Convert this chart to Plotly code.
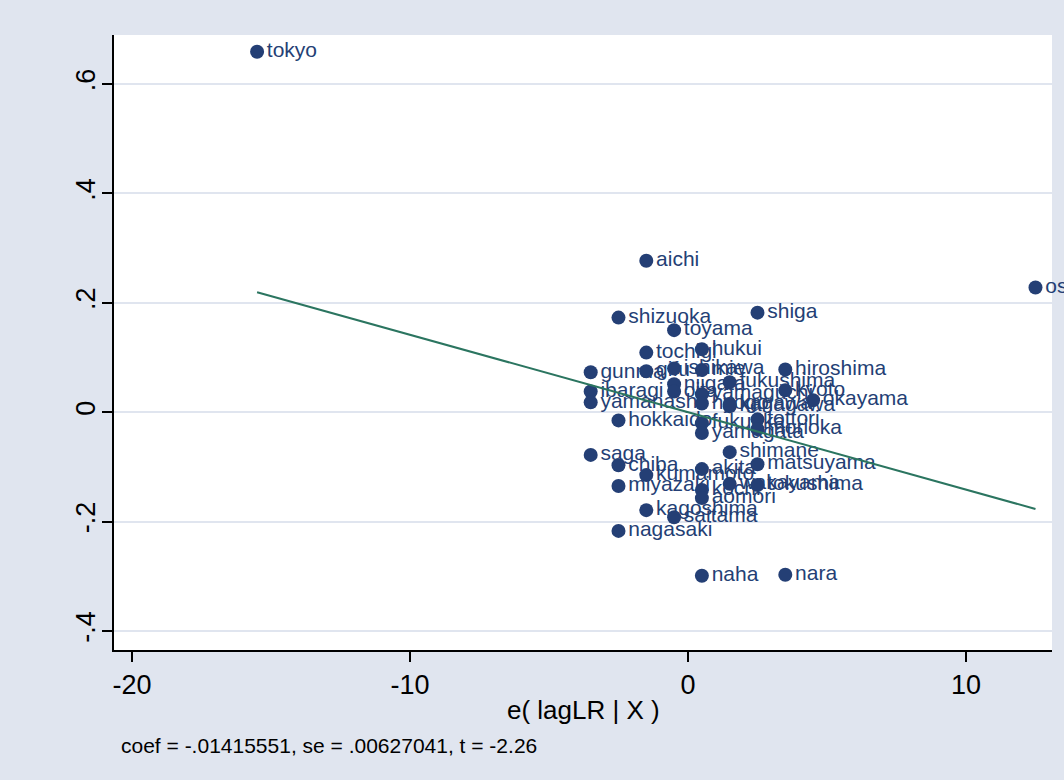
import plotly.graph_objects as go

# Added-variable plot: residual of lagLR against residual of the outcome
names = [
    "tokyo", "aichi", "osaka", "shizuoka", "shiga", "toyama", "tochigi", "hukui",
    "gunma", "gifu", "ishikawa", "mie", "hiroshima", "fukushima", "niigata",
    "oita", "yamaguchi", "kyoto", "ibaragi", "yamanashi", "okayama", "hyogo",
    "kanagawa", "kagawa", "hokkaido", "fukuoka", "tottori", "morioka", "yamagata",
    "shimane", "saga", "chiba", "kumamoto", "akita", "matsuyama", "miyazaki",
    "kochi", "aomori", "wakayama", "tokushima", "kagoshima", "saitama", "nagasaki",
    "naha", "nara",
]
e_lagLR = [
    -15.5, -1.5, 12.5, -2.5, 2.5, -0.5, -1.5, 0.5,
    -3.5, -1.5, -0.5, 0.5, 3.5, 1.5, -0.5,
    -0.5, 0.5, 3.5, -3.5, -3.5, 4.5, 0.5,
    1.5, 1.5, -2.5, 0.5, 2.5, 2.5, 0.5,
    1.5, -3.5, -2.5, -1.5, 0.5, 2.5, -2.5,
    0.5, 0.5, 1.5, 2.5, -1.5, -0.5, -2.5,
    0.5, 3.5,
]
e_y = [
    0.659, 0.277, 0.228, 0.173, 0.182, 0.150, 0.109, 0.115,
    0.073, 0.075, 0.080, 0.077, 0.078, 0.055, 0.051,
    0.038, 0.033, 0.040, 0.038, 0.018, 0.022, 0.016,
    0.011, 0.015, -0.015, -0.020, -0.013, -0.031, -0.038,
    -0.073, -0.078, -0.097, -0.115, -0.104, -0.095, -0.135,
    -0.142, -0.157, -0.131, -0.133, -0.179, -0.192, -0.217,
    -0.299, -0.297,
]

coef = -0.01415551
se = 0.00627041
tstat = -2.26

x_ticks = [-20, -10, 0, 10]
y_ticks = [-0.4, -0.2, 0, 0.2, 0.4, 0.6]
y_ticklabels = ["-.4", "-.2", "0", ".2", ".4", ".6"]

navy = "#243F75"
green = "#2B7560"
bg = "#E0E5EF"
font = "Arial, Liberation Sans, Helvetica, sans-serif"

# fitted line through the origin spanning the observed range
x_fit = [min(e_lagLR), max(e_lagLR)]
y_fit = [coef * v for v in x_fit]


def stata_num(v, digits):
    s = f"{v:.{digits}f}"
    if s.startswith("-0."):
        return "-" + s[2:]
    if s.startswith("0."):
        return s[1:]
    return s


note = (f"coef = {stata_num(coef, 8)}, se = {stata_num(se, 8)}, "
        f"t = {tstat:.2f}")

fig = go.Figure()
fig.add_trace(go.Scatter(
    x=e_lagLR, y=e_y, mode="markers+text", text=names,
    textposition="middle right",
    textfont=dict(family=font, size=21, color=navy),
    marker=dict(size=14, color=navy),
    cliponaxis=False, showlegend=False, hoverinfo="skip",
))
fig.add_trace(go.Scatter(
    x=x_fit, y=y_fit, mode="lines",
    line=dict(color=green, width=2),
    showlegend=False, hoverinfo="skip",
))

fig.update_layout(
    width=1064, height=780,
    margin=dict(l=114, r=12, t=35, b=130),
    paper_bgcolor=bg, plot_bgcolor="white",
    font=dict(family=font, color="black"),
    xaxis=dict(
        range=[-20.647, 13.094], tickvals=x_ticks,
        ticktext=[str(v) for v in x_ticks],
        showgrid=False, zeroline=False,
        showline=True, linecolor="black", linewidth=1.5,
        ticks="outside", ticklen=10, tickwidth=1.5, tickcolor="black",
        tickfont=dict(size=27, family=font, color="black"),
    ),
    yaxis=dict(
        range=[-0.4347, 0.6896], tickvals=y_ticks, ticktext=y_ticklabels,
        tickangle=-90, ticklabelstandoff=-4,
        showgrid=True, gridcolor=bg, gridwidth=2, zeroline=False,
        showline=True, linecolor="black", linewidth=1.5,
        ticks="outside", ticklen=10, tickwidth=1.5, tickcolor="black",
        tickfont=dict(size=27, family=font, color="black"),
    ),
    annotations=[
        dict(text="e( lagLR | X )", xref="paper", yref="paper",
             x=0.5, y=-0.0976, xanchor="center", yanchor="middle",
             showarrow=False, font=dict(size=26, family=font, color="black")),
        dict(text=note, xref="paper", yref="paper",
             x=(119 - 114) / 938, y=-0.1545, xanchor="left", yanchor="middle",
             showarrow=False, font=dict(size=21, family=font, color="black")),
    ],
)

fig.write_html("out.html")
